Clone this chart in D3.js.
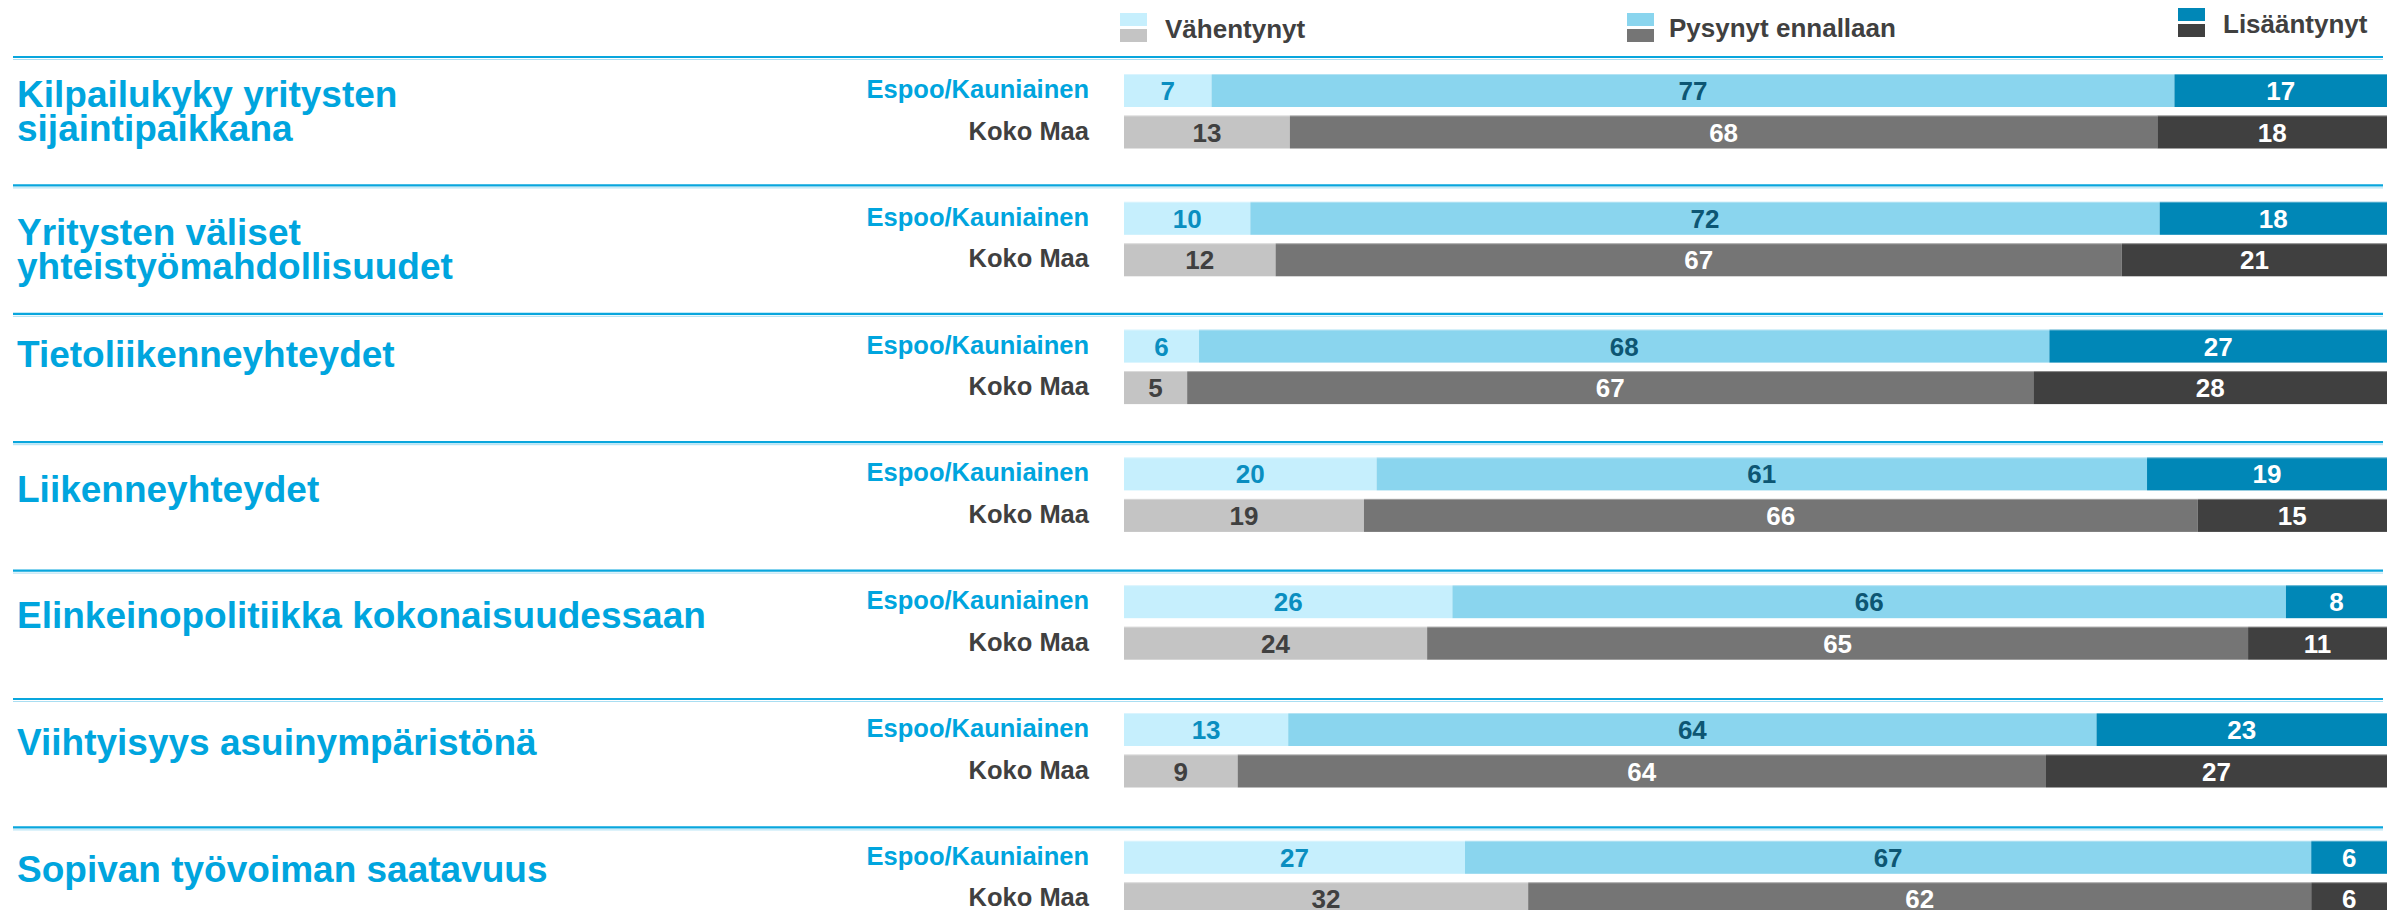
<!DOCTYPE html>
<html>
<head>
<meta charset="utf-8">
<script src="https://cdn.jsdelivr.net/npm/d3@7"></script>
<style>
  body { margin: 0; background: #fff; }
  svg { display: block; font-family: "Liberation Sans", Arial, sans-serif; font-weight: bold; }
</style>
</head>
<body>
<svg></svg>
<script>
const svgWidth = 2399
const svgHeight = 910

// data
const topics = [
  ["Kilpailukyky yritysten", "sijaintipaikkana"],
  ["Yritysten väliset", "yhteistyömahdollisuudet"],
  ["Tietoliikenneyhteydet"],
  ["Liikenneyhteydet"],
  ["Elinkeinopolitiikka kokonaisuudessaan"],
  ["Viihtyisyys asuinympäristönä"],
  ["Sopivan työvoiman saatavuus"]
]
const regions = ["Espoo/Kauniainen", "Koko Maa"]
const answers = ["Vähentynyt", "Pysynyt ennallaan", "Lisääntynyt"]

const espoo = [
  [7, 77, 17],
  [10, 72, 18],
  [6, 68, 27],
  [20, 61, 19],
  [26, 66, 8],
  [13, 64, 23],
  [27, 67, 6]
]
const kokoMaa = [
  [13, 68, 18],
  [12, 67, 21],
  [5, 67, 28],
  [19, 66, 15],
  [24, 65, 11],
  [9, 64, 27],
  [32, 62, 6]
]

// styles
const fills = [
  ["#c6effd", "#8ad5ee", "#0087b7"],
  ["#c4c4c4", "#757575", "#404040"]
]
const labelFills = [
  ["#0a8ec0", "#0d5673", "#ffffff"],
  ["#404040", "#ffffff", "#ffffff"]
]
const blue = "#00a5de"
const dark = "#404040"

// layout
const barLeft = 1124
const barRight = 2387
const barHeight = 33
const rowGap = 41.5
const titleOffsets = [50, 60, 53, 60, 57, 56, 55]
const legendPos = [
  { x: 1120, y: 13, tx: 1165, ty: 38 },
  { x: 1627, y: 13, tx: 1669, ty: 37 },
  { x: 2178, y: 8, tx: 2223, ty: 33 }
]

const svg = d3.select("svg")
  .attr("width", svgWidth)
  .attr("height", svgHeight)

const lineY = d3.scaleLinear().domain([0, topics.length - 1]).range([57, 827.4])
const barY = d3.scaleLinear().domain([0, topics.length - 1]).range([74, 840.8])
const xScale = d3.scaleLinear().domain([0, 1]).range([barLeft, barRight])

// legend
answers.forEach((a, i) => {
  const p = legendPos[i]
  const g = svg.append("g")
  g.append("rect")
    .attr("x", p.x).attr("y", p.y)
    .attr("width", 27).attr("height", 13)
    .attr("fill", fills[0][i])
  g.append("rect")
    .attr("x", p.x).attr("y", p.y + 16)
    .attr("width", 27).attr("height", 13)
    .attr("fill", fills[1][i])
  g.append("text")
    .attr("x", p.tx).attr("y", p.ty)
    .attr("font-size", 26)
    .attr("fill", dark)
    .text(a)
})

// separator lines
topics.forEach((t, i) => {
  const y = lineY(i)
  svg.append("line")
    .attr("x1", 13).attr("x2", 2383)
    .attr("y1", y).attr("y2", y)
    .attr("stroke", "#09a6dd").attr("stroke-width", 2.2)
  svg.append("line")
    .attr("x1", 13).attr("x2", 2383)
    .attr("y1", y + 2.5).attr("y2", y + 2.5)
    .attr("stroke", "#a9def2").attr("stroke-width", 1)
})

// titles
topics.forEach((t, i) => {
  const text = svg.append("text")
    .attr("x", 17)
    .attr("y", lineY(i) + titleOffsets[i])
    .attr("font-size", 37)
    .attr("fill", blue)
  t.forEach((line, j) => {
    text.append("tspan")
      .attr("x", 17)
      .attr("dy", j === 0 ? 0 : 34)
      .text(line)
  })
})

// bars
const rows = [espoo, kokoMaa]
topics.forEach((t, i) => {
  rows.forEach((series, r) => {
    const vals = series[i]
    const total = d3.sum(vals)
    const y = barY(i) + r * rowGap
    let acc = 0
    const segs = vals.map((v, k) => {
      const s = { v: v, k: k, x0: acc / total, x1: (acc + v) / total }
      acc += v
      return s
    })
    const g = svg.append("g")
    g.selectAll("rect")
      .data(segs)
      .enter()
      .append("rect")
      .attr("x", d => xScale(d.x0))
      .attr("width", d => xScale(d.x1) - xScale(d.x0))
      .attr("y", y)
      .attr("height", barHeight)
      .attr("fill", d => fills[r][d.k])
    // light top edge
    g.append("line")
      .attr("x1", barLeft).attr("x2", barRight)
      .attr("y1", y + 0.5).attr("y2", y + 0.5)
      .attr("stroke", "#ffffff").attr("stroke-opacity", 0.35)
    g.selectAll("text")
      .data(segs)
      .enter()
      .append("text")
      .attr("x", d => (xScale(d.x0) + xScale(d.x1)) / 2)
      .attr("y", y + barHeight / 2 + 9.5)
      .attr("text-anchor", "middle")
      .attr("font-size", 26)
      .attr("fill", d => labelFills[r][d.k])
      .text(d => d.v)

    svg.append("text")
      .attr("x", 1089)
      .attr("y", y + barHeight / 2 + 7.5)
      .attr("text-anchor", "end")
      .attr("font-size", 25.5)
      .attr("fill", r === 0 ? blue : dark)
      .text(regions[r])
  })
})
</script>
</body>
</html>
